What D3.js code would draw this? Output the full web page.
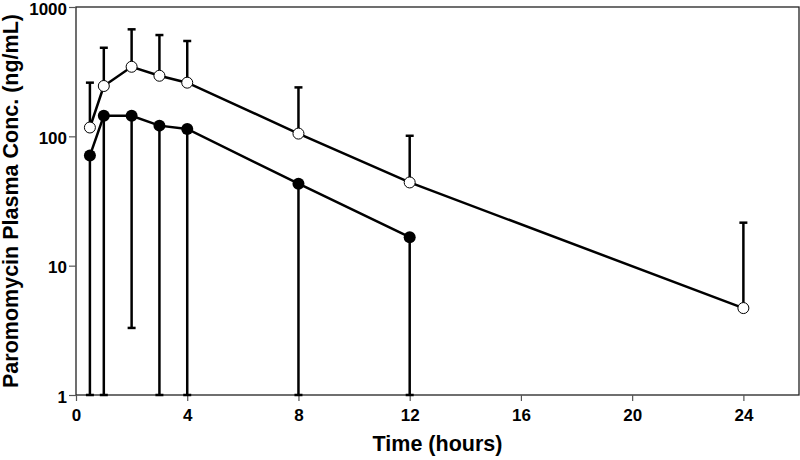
<!DOCTYPE html>
<html>
<head>
<meta charset="utf-8">
<script src="https://cdn.jsdelivr.net/npm/d3@7"></script>
<style>
  body { margin: 0; background: #fff; }
  text { font-family: "Liberation Sans", Arial, sans-serif; font-weight: bold; fill: #000; }
</style>
</head>
<body>
<div id="chart"></div>
<script>
// sampling times (hours)
const times = [0.5, 1, 2, 3, 4, 8, 12, 24]

// open circles: mean and mean+SD
const openMean = [117, 245, 345, 294, 260, 105, 44, 4.7]
const openUpper = [260, 484, 672, 607, 546, 239, 101, 21.5]

// filled circles: mean and mean-SD (1 = runs down to the axis)
const filledTimes = [0.5, 1, 2, 3, 4, 8, 12]
const filledMean = [71, 144, 144, 121, 114, 43, 16.6]
const filledLower = [1, 1, 3.3, 1, 1, 1, 1]

const xTicks = [0, 4, 8, 12, 16, 20, 24]
const yTicks = [1, 10, 100, 1000]

const width = 800, height = 460
const margin = {top: 7, right: 1, bottom: 65, left: 76}

const svg = d3.select("#chart").append("svg")
  .attr("width", width)
  .attr("height", height)

const x = d3.scaleLinear().domain([0, 26]).range([margin.left, width - margin.right])
const y = d3.scaleLog().domain([1, 1000]).range([height - margin.bottom, margin.top])

// frame
svg.append("rect")
  .attr("x", x(0)).attr("y", y(1000))
  .attr("width", x(26) - x(0)).attr("height", y(1) - y(1000))
  .attr("fill", "none").attr("stroke", "#222").attr("stroke-width", 1.3)

// axes
let xAxis = svg.append("g")
  .attr("transform", `translate(0,${y(1)})`)
  .call(d3.axisBottom(x).tickValues(xTicks).tickSize(6).tickPadding(8).tickFormat(d3.format("d")))
xAxis.select(".domain").remove()
xAxis.selectAll("line").attr("stroke", "#555").attr("stroke-width", 1.2)
xAxis.selectAll("text").style("font-size", "17px")

let yAxis = svg.append("g")
  .attr("transform", `translate(${x(0)},0)`)
  .call(d3.axisLeft(y).tickValues(yTicks).tickSize(7).tickPadding(2).tickFormat(d3.format("d")))
yAxis.select(".domain").remove()
yAxis.selectAll("line").attr("stroke", "#555").attr("stroke-width", 1.2)
yAxis.selectAll("text").style("font-size", "17px").attr("dy", "0.42em")

// titles
svg.append("text")
  .attr("x", (x(0) + x(26)) / 2)
  .attr("y", 451)
  .attr("text-anchor", "middle")
  .style("font-size", "21.5px")
  .text("Time (hours)")

svg.append("text")
  .attr("transform", `translate(18,${(y(1) + y(1000)) / 2}) rotate(-90)`)
  .attr("text-anchor", "middle")
  .style("font-size", "21.5px")
  .text("Paromomycin Plasma Conc. (ng/mL)")

const capW = 4

// error bars, open series (upward)
let openBars = svg.append("g").attr("stroke", "#000").attr("stroke-width", 2.5)
times.forEach((t, i) => {
  openBars.append("line")
    .attr("x1", x(t)).attr("x2", x(t))
    .attr("y1", y(openMean[i])).attr("y2", y(openUpper[i]))
  openBars.append("line")
    .attr("x1", x(t) - capW).attr("x2", x(t) + capW)
    .attr("y1", y(openUpper[i])).attr("y2", y(openUpper[i]))
})

// error bars, filled series (downward)
let filledBars = svg.append("g").attr("stroke", "#000").attr("stroke-width", 2.5)
filledTimes.forEach((t, i) => {
  filledBars.append("line")
    .attr("x1", x(t)).attr("x2", x(t))
    .attr("y1", y(filledMean[i])).attr("y2", y(filledLower[i]))
  filledBars.append("line")
    .attr("x1", x(t) - capW).attr("x2", x(t) + capW)
    .attr("y1", y(filledLower[i])).attr("y2", y(filledLower[i]))
})

// lines
let line = d3.line().x(d => x(d[0])).y(d => y(d[1]))

svg.append("path")
  .datum(times.map((t, i) => [t, openMean[i]]))
  .attr("d", line)
  .attr("fill", "none").attr("stroke", "#000").attr("stroke-width", 2.5)

svg.append("path")
  .datum(filledTimes.map((t, i) => [t, filledMean[i]]))
  .attr("d", line)
  .attr("fill", "none").attr("stroke", "#000").attr("stroke-width", 2.5)

// markers
svg.append("g").selectAll("circle")
  .data(times)
  .enter().append("circle")
  .attr("cx", d => x(d))
  .attr("cy", (d, i) => y(openMean[i]))
  .attr("r", 5.5)
  .attr("fill", "#fff")
  .attr("stroke", "#000")
  .attr("stroke-width", 1)

svg.append("g").selectAll("circle")
  .data(filledTimes)
  .enter().append("circle")
  .attr("cx", d => x(d))
  .attr("cy", (d, i) => y(filledMean[i]))
  .attr("r", 6)
  .attr("fill", "#000")
</script>
</body>
</html>
